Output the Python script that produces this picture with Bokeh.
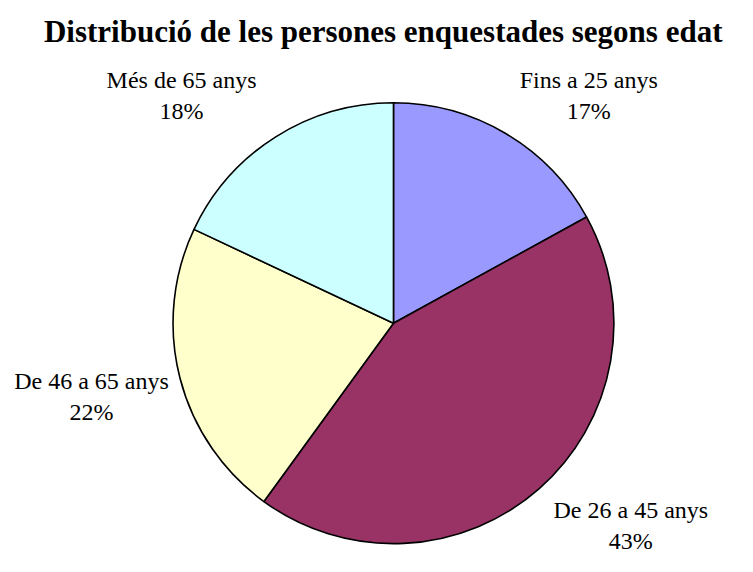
import math
from bokeh.plotting import figure
from bokeh.models import Range1d, ColumnDataSource
from bokeh.core.properties import value
from bokeh.embed import file_html
from bokeh.resources import INLINE

# ---- data ----
title_text = "Distribució de les persones enquestades segons edat"
categories = ["Fins a 25 anys", "De 26 a 45 anys", "De 46 a 65 anys", "Més de 65 anys"]
percents = [17, 43, 22, 18]
colors = ["#9999FF", "#993366", "#FFFFCC", "#CCFFFF"]

# ---- layout (designed on a 753x572 canvas, scaled to fit the figure) ----
W, H = 737, 556
SX, SY = W / 753, H / 572
ref_center, ref_R = (401.5, 332), 226
ref_label_pos = [(601, 82), (644, 524), (93, 391), (185, 82)]
ref_line_gap = 32
ref_title = (391, 32)

def X(x):
    return x * SX

def Y(y):
    return H - y * SY

p = figure(width=W, height=H, output_backend="svg", toolbar_location=None,
           x_range=Range1d(0, W), y_range=Range1d(0, H), min_border=0,
           outline_line_color=None)
p.axis.visible = False
p.grid.visible = False
p.background_fill_color = "white"
p.border_fill_color = "white"

total = sum(percents)
starts, ends = [], []
cum = 0.0
for v in percents:
    starts.append(math.pi / 2 - 2 * math.pi * cum / total)
    cum += v
    ends.append(math.pi / 2 - 2 * math.pi * cum / total)

R = ref_R * (SX + SY) / 2
src = ColumnDataSource(dict(x=[X(ref_center[0])] * len(percents),
                            y=[Y(ref_center[1])] * len(percents),
                            start=starts, end=ends, color=colors, cat=categories))
p.wedge(x="x", y="y", radius=R, start_angle="start", end_angle="end",
        direction="clock", fill_color="color", line_color="black", line_width=1.6,
        source=src)

lx, ly, lt = [], [], []
for (x, y), cat, v in zip(ref_label_pos, categories, percents):
    lx += [X(x), X(x)]
    ly += [Y(y), Y(y + ref_line_gap)]
    lt += [cat, f"{v}%"]
p.text(x=lx, y=ly, text=lt, text_align="center", text_baseline="middle",
       text_font=value("Liberation Serif"), text_font_size="24px", text_color="black")

p.text(x=[X(ref_title[0])], y=[Y(ref_title[1])], text=[title_text],
       text_align="center", text_baseline="middle",
       text_font=value("Liberation Serif"), text_font_size="31px", text_font_style="bold",
       text_color="black")

open("out.html", "w").write(file_html(p, INLINE))
